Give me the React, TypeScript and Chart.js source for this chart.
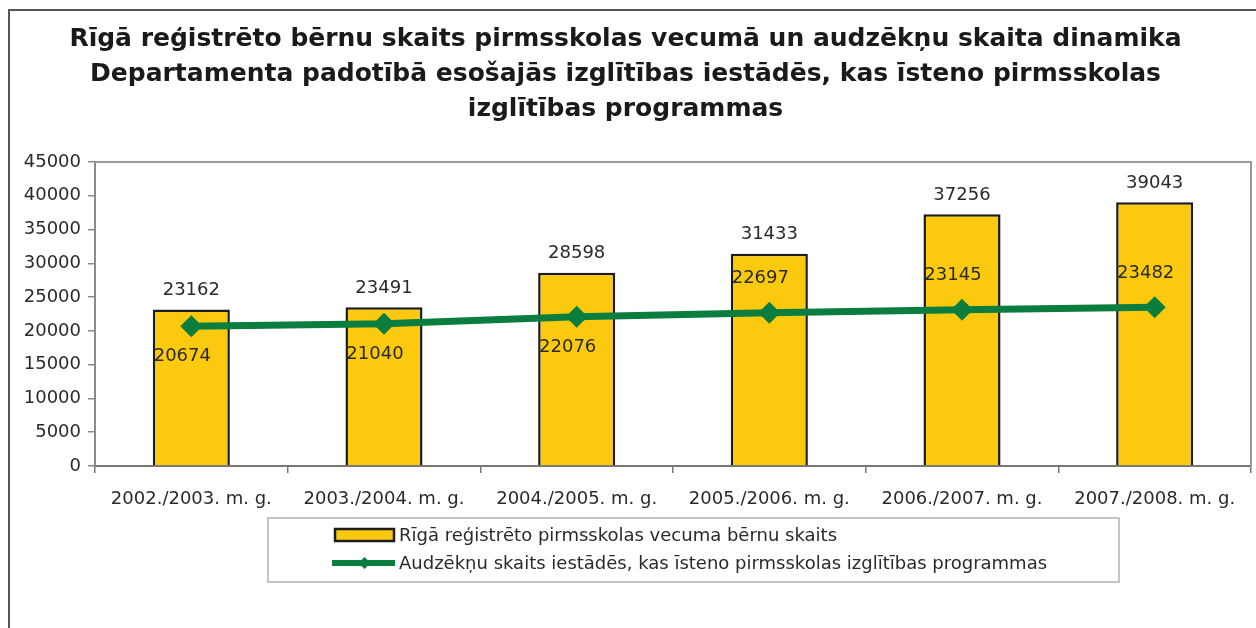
import React, { useEffect, useRef } from "react";
import { Chart, registerables } from "chart.js";

Chart.register(...registerables);

const titleLines = [
  "Rīgā reģistrēto bērnu skaits pirmsskolas vecumā un audzēkņu skaita dinamika",
  "Departamenta padotībā esošajās izglītības iestādēs, kas īsteno pirmsskolas",
  "izglītības programmas",
];
const categories = [
  "2002./2003. m. g.",
  "2003./2004. m. g.",
  "2004./2005. m. g.",
  "2005./2006. m. g.",
  "2006./2007. m. g.",
  "2007./2008. m. g.",
];
const registeredChildren = [23162, 23491, 28598, 31433, 37256, 39043];
const enrolledPupils = [20674, 21040, 22076, 22697, 23145, 23482];
const seriesLabels = [
  "Rīgā reģistrēto pirmsskolas vecuma bērnu skaits",
  "Audzēkņu skaits iestādēs, kas īsteno pirmsskolas izglītības programmas",
];
const yMin = 0;
const yMax = 45000;
const yStep = 5000;

const FONT = "'DejaVu Sans', sans-serif";
const BAR_FILL = "#FBC90D";
const BAR_BORDER = "#1c1c1c";
const LINE_COLOR = "#0B7D3E";
const TEXT = "#2a2a2a";

const framePlugin = {
  id: "frame",
  beforeDraw(chart: any) {
    const { ctx, width, height } = chart;
    ctx.save();
    ctx.fillStyle = "#ffffff";
    ctx.fillRect(0, 0, width, height);
    ctx.strokeStyle = "#555555";
    ctx.lineWidth = 2;
    ctx.beginPath();
    ctx.moveTo(9, height);
    ctx.lineTo(9, 10);
    ctx.lineTo(width, 10);
    ctx.stroke();
    ctx.restore();
  },
  beforeDatasetsDraw(chart: any) {
    const { ctx, chartArea } = chart;
    ctx.save();
    ctx.strokeStyle = "#9a9a9a";
    ctx.lineWidth = 2;
    ctx.beginPath();
    ctx.moveTo(chartArea.left, chartArea.top);
    ctx.lineTo(chartArea.right, chartArea.top);
    ctx.lineTo(chartArea.right, chartArea.bottom);
    ctx.stroke();
    ctx.restore();
  },
};

const valueLabelPlugin = {
  id: "valueLabels",
  afterDatasetsDraw(chart: any) {
    const { ctx } = chart;
    ctx.save();
    ctx.font = `18px ${FONT}`;
    ctx.fillStyle = TEXT;
    ctx.textAlign = "center";
    const barMeta = chart.getDatasetMeta(0);
    barMeta.data.forEach((el: any, i: number) => {
      ctx.textBaseline = "bottom";
      ctx.fillText(String(registeredChildren[i]), el.x, el.y - 10);
    });
    const lineMeta = chart.getDatasetMeta(1);
    lineMeta.data.forEach((el: any, i: number) => {
      ctx.textBaseline = "middle";
      const dy = i < 3 ? 30 : -34;
      ctx.fillText(String(enrolledPupils[i]), el.x - 9, el.y + dy);
    });
    ctx.restore();
  },
};

const legendBoxPlugin = {
  id: "legendBox",
  afterDraw(chart: any) {
    const { ctx, chartArea } = chart;
    const left = 268;
    const right = 1119;
    const top = chartArea.bottom + 52;
    const bottom = top + 64;
    ctx.save();
    ctx.strokeStyle = "#b0b0b0";
    ctx.lineWidth = 1.5;
    ctx.strokeRect(left, top, right - left, bottom - top);

    const sx0 = 334;
    const sx1 = 395;
    const row1 = top + 17;
    const row2 = top + 45;
    ctx.fillStyle = BAR_FILL;
    ctx.fillRect(sx0 + 1, row1 - 6, sx1 - sx0 - 2, 12);
    ctx.strokeStyle = BAR_BORDER;
    ctx.lineWidth = 2.5;
    ctx.strokeRect(sx0 + 1, row1 - 6, sx1 - sx0 - 2, 12);
    ctx.strokeStyle = LINE_COLOR;
    ctx.lineWidth = 6;
    ctx.beginPath();
    ctx.moveTo(sx0 - 2, row2);
    ctx.lineTo(sx1, row2);
    ctx.stroke();
    ctx.fillStyle = LINE_COLOR;
    const cx = (sx0 + sx1) / 2;
    ctx.beginPath();
    ctx.moveTo(cx - 6, row2);
    ctx.lineTo(cx, row2 - 6);
    ctx.lineTo(cx + 6, row2);
    ctx.lineTo(cx, row2 + 6);
    ctx.closePath();
    ctx.fill();

    ctx.font = `18px ${FONT}`;
    ctx.fillStyle = TEXT;
    ctx.textAlign = "left";
    ctx.textBaseline = "middle";
    ctx.fillText(chart.data.datasets[0].label, 399, row1 + 1);
    ctx.fillText(chart.data.datasets[1].label, 399, row2 + 1);
    ctx.restore();
  },
};

export default function App() {
  const canvasRef = useRef<HTMLCanvasElement | null>(null);

  useEffect(() => {
    if (!canvasRef.current) return;
    const chart = new Chart(canvasRef.current, {
      type: "bar",
      data: {
        labels: categories,
        datasets: [
          {
            type: "bar",
            label: seriesLabels[0],
            data: registeredChildren,
            backgroundColor: BAR_FILL,
            borderColor: BAR_BORDER,
            borderWidth: 2.5,
            barPercentage: 0.4,
            categoryPercentage: 1,
            order: 2,
          },
          {
            type: "line",
            label: seriesLabels[1],
            data: enrolledPupils,
            borderColor: LINE_COLOR,
            backgroundColor: LINE_COLOR,
            borderWidth: 7,
            pointStyle: "rectRot",
            pointRadius: 11,
            pointBorderWidth: 0,
            pointBackgroundColor: LINE_COLOR,
            tension: 0,
            order: 1,
          } as any,
        ],
      },
      options: {
        animation: false,
        responsive: true,
        maintainAspectRatio: false,
        layout: {
          autoPadding: false,
          padding: { left: 0, right: 5, top: 0, bottom: 0 },
        },
        plugins: {
          legend: { display: false },
          tooltip: { enabled: false },
          title: {
            display: true,
            text: titleLines,
            color: "#1a1a1a",
            font: { family: FONT, size: 25, weight: "bold", lineHeight: 1.4 },
            padding: { top: 22, bottom: 35 },
          },
        },
        scales: {
          x: {
            afterFit: (s: any) => {
              s.height = 162;
              s.paddingLeft = 0;
              s.paddingRight = 0;
            },
            grid: {
              offset: true,
              drawOnChartArea: false,
              drawTicks: true,
              tickLength: 7,
              color: "#777777",
              lineWidth: 1.5,
            },
            border: { display: true, color: "#777777", width: 2 },
            ticks: {
              color: TEXT,
              font: { family: FONT, size: 18 },
              padding: 16,
              maxRotation: 0,
              autoSkip: false,
            },
          },
          y: {
            min: yMin,
            max: yMax,
            afterFit: (s: any) => {
              s.width = 95;
            },
            grid: {
              drawOnChartArea: false,
              drawTicks: true,
              tickLength: 7,
              color: "#8a8a8a",
              lineWidth: 1.5,
            },
            border: { display: true, color: "#8a8a8a", width: 2 },
            ticks: {
              stepSize: yStep,
              color: TEXT,
              font: { family: FONT, size: 18 },
              padding: 7,
              callback: (v: any) => String(v),
            },
          },
        },
      },
      plugins: [framePlugin, valueLabelPlugin, legendBoxPlugin],
    });
    return () => chart.destroy();
  }, []);

  return (
    <div
      style={{
        position: "fixed",
        left: 0,
        top: 0,
        width: 1256,
        height: 628,
        background: "#ffffff",
      }}
    >
      <canvas ref={canvasRef} />
    </div>
  );
}
